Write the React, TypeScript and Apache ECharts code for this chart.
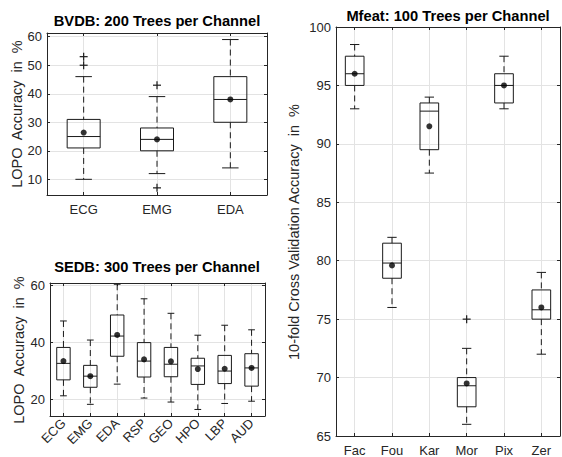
import React, { useEffect, useRef } from "react";
import * as echarts from "echarts";

// ---------- BVDB ----------
const bvdbCats = ["ECG", "EMG", "EDA"];
const bvdbLow = [10, 12, 14];
const bvdbQ1 = [21, 20, 30];
const bvdbMed = [25, 24, 38];
const bvdbQ3 = [31, 28, 46];
const bvdbHigh = [46, 39, 59];
const bvdbMean = [26.4, 24, 38];
const bvdbOutliers: [number, number][] = [[0, 50], [0, 53], [1, 43], [1, 7]];

// ---------- SEDB ----------
const sedbCats = ["ECG", "EMG", "EDA", "RSP", "GEO", "HPO", "LBP", "AUD"];
const sedbLow = [21.2, 18.2, 25.3, 20.4, 19.0, 16.4, 18.5, 19.3];
const sedbQ1 = [26.8, 24.2, 35.1, 27.8, 27.9, 25.2, 25.5, 24.6];
const sedbMed = [32.6, 28.1, 42.2, 33.4, 32.3, 31.7, 29.9, 31.0];
const sedbQ3 = [38.2, 31.9, 49.6, 39.9, 38.2, 34.4, 35.4, 36.0];
const sedbHigh = [47.5, 40.8, 60.4, 55.3, 50.2, 42.5, 46.0, 44.4];
const sedbMean = [33.4, 28.1, 42.6, 34.0, 33.3, 30.6, 30.7, 31.0];
const sedbOutliers: [number, number][] = [];

// ---------- Mfeat ----------
const mfeatCats = ["Fac", "Fou", "Kar", "Mor", "Pix", "Zer"];
const mfeatLow = [93, 76, 87.5, 66, 93, 72];
const mfeatQ1 = [95, 78.5, 89.5, 67.5, 93.5, 75];
const mfeatMed = [96, 79.8, 92.8, 69.3, 95, 75.8];
const mfeatQ3 = [97.5, 81.5, 93.5, 70, 96, 77.5];
const mfeatHigh = [98.5, 82, 94, 72.5, 97.5, 79];
const mfeatMean = [96, 79.6, 91.5, 69.5, 95, 76];
const mfeatOutliers: [number, number][] = [[3, 75]];

const FONT = "Liberation Sans, Arial, Helvetica, sans-serif";
const AXIS = "#262626";
const GRIDC = "#e3e3e3";
const INK = "#1a1a1a";

function boxData(low: number[], q1: number[], med: number[], q3: number[], high: number[]) {
  return low.map((_, i) => [i, low[i], q1[i], med[i], q3[i], high[i]]);
}

function boxSeries(idx: number, data: number[][], ratio: number) {
  return {
    type: "custom",
    xAxisIndex: idx,
    yAxisIndex: idx,
    z: 5,
    encode: { x: 0, y: [1, 2, 3, 4, 5] },
    data,
    renderItem: (params: any, api: any) => {
      const i = api.value(0);
      const low = api.coord([i, api.value(1)]);
      const q1 = api.coord([i, api.value(2)]);
      const med = api.coord([i, api.value(3)]);
      const q3 = api.coord([i, api.value(4)]);
      const high = api.coord([i, api.value(5)]);
      const band = api.size([1, 0])[0];
      const bw = band * ratio;
      const cw = bw / 2;
      const x = low[0];
      const solid = { stroke: INK, lineWidth: 1, fill: "none" };
      const dashed = { stroke: INK, lineWidth: 1, lineDash: [6, 4] };
      return {
        type: "group",
        children: [
          { type: "line", shape: { x1: x, y1: high[1], x2: x, y2: q3[1] }, style: dashed },
          { type: "line", shape: { x1: x, y1: q1[1], x2: x, y2: low[1] }, style: dashed },
          { type: "line", shape: { x1: x - cw / 2, y1: high[1], x2: x + cw / 2, y2: high[1] }, style: solid },
          { type: "line", shape: { x1: x - cw / 2, y1: low[1], x2: x + cw / 2, y2: low[1] }, style: solid },
          { type: "rect", shape: { x: x - bw / 2, y: q3[1], width: bw, height: q1[1] - q3[1] }, style: solid },
          { type: "line", shape: { x1: x - bw / 2, y1: med[1], x2: x + bw / 2, y2: med[1] }, style: solid },
        ],
      };
    },
  };
}

function outlierSeries(idx: number, data: [number, number][]) {
  return {
    type: "custom",
    xAxisIndex: idx,
    yAxisIndex: idx,
    z: 6,
    encode: { x: 0, y: 1 },
    data,
    renderItem: (params: any, api: any) => {
      const p = api.coord([api.value(0), api.value(1)]);
      const s = 4;
      const st = { stroke: INK, lineWidth: 1.2 };
      return {
        type: "group",
        children: [
          { type: "line", shape: { x1: p[0] - s, y1: p[1], x2: p[0] + s, y2: p[1] }, style: st },
          { type: "line", shape: { x1: p[0], y1: p[1] - s, x2: p[0], y2: p[1] + s }, style: st },
        ],
      };
    },
  };
}

function meanSeries(idx: number, mean: number[]) {
  return {
    type: "scatter",
    xAxisIndex: idx,
    yAxisIndex: idx,
    z: 7,
    symbol: "circle",
    symbolSize: 6,
    itemStyle: { color: "#000" },
    data: mean.map((m, i) => [i, m]),
  };
}

function xAxisFor(grid: number, cats: string[], rotate: number, margin: number) {
  return {
    type: "category",
    gridIndex: grid,
    data: cats,
    boundaryGap: true,
    axisLine: { show: true, lineStyle: { color: AXIS, width: 1 } },
    axisTick: { show: true, inside: true, alignWithLabel: true, length: 3, lineStyle: { color: AXIS } },
    axisLabel: { color: AXIS, fontSize: 13, fontFamily: FONT, rotate, margin, interval: 0 },
    splitLine: { show: true, alignWithLabel: true, lineStyle: { color: GRIDC, width: 1 } },
  };
}
function xTopFor(grid: number, cats: string[]) {
  return {
    type: "category",
    gridIndex: grid,
    position: "top",
    data: cats,
    boundaryGap: true,
    axisLine: { show: true, lineStyle: { color: AXIS, width: 1 } },
    axisTick: { show: true, inside: true, alignWithLabel: true, length: 3, lineStyle: { color: AXIS } },
    axisLabel: { show: false },
    splitLine: { show: false },
  };
}
function yAxisFor(grid: number, min: number, max: number, splitNumber: number, interval?: number) {
  const o: any = {
    type: "value",
    gridIndex: grid,
    min,
    max,
    splitNumber,
    axisLine: { show: true, lineStyle: { color: AXIS, width: 1 } },
    axisTick: { show: true, inside: true, length: 3, lineStyle: { color: AXIS } },
    axisLabel: { color: AXIS, fontSize: 13, fontFamily: FONT, margin: 5, showMinLabel: interval ? true : false, showMaxLabel: interval ? true : false },
    splitLine: { show: true, lineStyle: { color: GRIDC, width: 1 } },
  };
  if (interval) o.interval = interval;
  return o;
}
function yRightFor(grid: number, min: number, max: number, splitNumber: number, interval?: number) {
  const o: any = {
    type: "value",
    gridIndex: grid,
    position: "right",
    min,
    max,
    splitNumber,
    axisLine: { show: true, lineStyle: { color: AXIS, width: 1 } },
    axisTick: { show: true, inside: true, length: 3, lineStyle: { color: AXIS } },
    axisLabel: { show: false },
    splitLine: { show: false },
  };
  if (interval) o.interval = interval;
  return o;
}

function titleText(text: string, x: number, y: number) {
  return {
    type: "text",
    x,
    y,
    style: { text, fontSize: 14.7, fontWeight: "bold", fontFamily: FONT, fill: "#000", align: "center", verticalAlign: "middle" },
  };
}
function yLabel(text: string, x: number, y: number) {
  return {
    type: "text",
    x,
    y,
    rotation: Math.PI / 2,
    style: { text, fontSize: 14.5, fontFamily: FONT, fill: AXIS, align: "center", verticalAlign: "middle" },
  };
}

export default function App() {
  const ref = useRef<HTMLDivElement>(null);
  useEffect(() => {
    if (!ref.current) return;
    const chart = echarts.init(ref.current, undefined, { renderer: "svg" });
    const option: any = {
      animation: false,
      backgroundColor: "#fff",
      grid: [
        { left: 47, top: 33, width: 220, height: 162 },
        { left: 50, top: 283, width: 215, height: 133 },
        { left: 336, top: 27, width: 224, height: 409 },
      ],
      xAxis: [
        xAxisFor(0, bvdbCats, 0, 8),
        xAxisFor(1, sedbCats, 45, 5),
        xAxisFor(2, mfeatCats, 0, 8),
        xTopFor(0, bvdbCats),
        xTopFor(1, sedbCats),
        xTopFor(2, mfeatCats),
      ],
      yAxis: [
        yAxisFor(0, 4.5, 61.3, 5),
        yAxisFor(1, 14.1, 60.85, 2),
        yAxisFor(2, 65, 100, 7, 5),
        yRightFor(0, 4.5, 61.3, 5),
        yRightFor(1, 14.1, 60.85, 2),
        yRightFor(2, 65, 100, 7, 5),
      ],
      graphic: [
        titleText("BVDB: 200 Trees per Channel", 157, 21),
        titleText("SEDB: 300 Trees per Channel", 157, 267),
        titleText("Mfeat: 100 Trees per Channel", 448, 16),
        yLabel("LOPO  Accuracy  in  %", 17, 114),
        yLabel("LOPO  Accuracy  in  %", 19, 350),
        yLabel("10-fold Cross Validation Accuracy  in  %", 294, 232),
      ],
      series: [
        boxSeries(0, boxData(bvdbLow, bvdbQ1, bvdbMed, bvdbQ3, bvdbHigh), 0.45),
        outlierSeries(0, bvdbOutliers),
        meanSeries(0, bvdbMean),
        boxSeries(1, boxData(sedbLow, sedbQ1, sedbMed, sedbQ3, sedbHigh), 0.5),
        outlierSeries(1, sedbOutliers),
        meanSeries(1, sedbMean),
        boxSeries(2, boxData(mfeatLow, mfeatQ1, mfeatMed, mfeatQ3, mfeatHigh), 0.5),
        outlierSeries(2, mfeatOutliers),
        meanSeries(2, mfeatMean),
      ],
    };
    chart.setOption(option);
    return () => chart.dispose();
  }, []);
  return <div ref={ref} style={{ position: "fixed", left: 0, top: 0, width: 562, height: 457 }} />;
}
